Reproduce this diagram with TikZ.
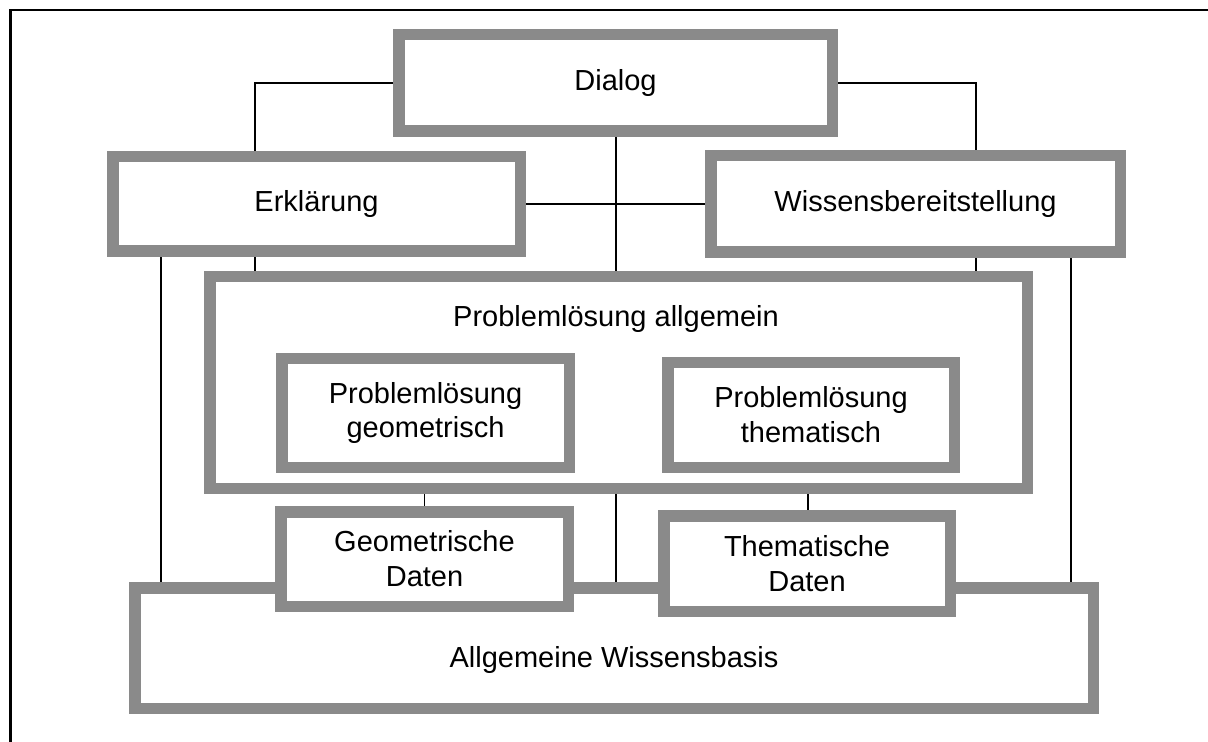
\documentclass[tikz,border=0pt]{standalone}
\usepackage{fontspec}
\setmainfont{Liberation Sans}
\usetikzlibrary{backgrounds}
\definecolor{patgray}{RGB}{138,138,138}
\tikzset{
  pbox/.style 2 args={draw=patgray, line width=5.75pt, fill=white, inner sep=0pt,
    align=center, minimum width={(#1-11.5)*0.5pt}, minimum height={(#2-11.5)*0.5pt}},
  oneline/.style={text height=0.72em, text depth=0pt},
  conn/.style={draw=black, line width=0.7pt},
  frame/.style={draw=black, line width=1.35pt}
}
\begin{document}
\begin{tikzpicture}[x=0.5pt, y=-0.5pt, font=\fontsize{14.5pt}{17.4pt}\selectfont]
\useasboundingbox (0,0) rectangle (1208,742);
% page frame
\coordinate (fA) at (1208,10);
\coordinate (fB) at (10.3,10);
\coordinate (fC) at (10.3,742);
\draw[frame] (fA) -- (fB) -- (fC);
% boxes
\node[pbox={445}{108}, oneline] (dialog) at (615.5,83) {Dialog};
\node[pbox={419}{106}, oneline] (erk) at (316.5,204) {Erklärung};
\node[pbox={421}{108}, oneline] (wis) at (915.5,204) {Wissensbereitstellung};
\node[pbox={970}{132}] (aw) at (614,648) {};
\node[pbox={829}{223}] (pa) at (618.5,382.5) {};
\node[pbox={299}{120}] (pg) at (425.5,413) {Problemlösung\\geometrisch};
\node[pbox={298}{116}] (pt) at (811,415) {Problemlösung\\thematisch};
\node[pbox={299}{106}] (gd) at (424.5,559) {Geometrische\\Daten};
\node[pbox={298}{107}] (td) at (807,563.5) {Thematische\\Daten};
\node[anchor=base, inner sep=0pt] (patext) at (616,327) {Problemlösung allgemein};
\node[anchor=base, inner sep=0pt] (awtext) at (614,667) {Allgemeine Wissensbasis};
% connector x positions
\coordinate (xLL) at (161,0);
\coordinate (xL) at (255,0);
\coordinate (xM) at (616,0);
\coordinate (xR) at (976,0);
\coordinate (xRR) at (1071,0);
\coordinate (xT) at (808,0);
\begin{pgfonlayer}{background}
\draw[conn] (dialog.west) -| (xL |- erk.north);
\draw[conn] (dialog.east) -| (xR |- wis.north);
\draw[conn] (xM |- dialog.south) -- (xM |- pa.north);
\draw[conn] (erk.east) -- (wis.west);
\draw[conn] (xL |- erk.south) -- (xL |- pa.north);
\draw[conn] (xLL |- erk.south) -- (xLL |- aw.north);
\draw[conn] (xR |- wis.south) -- (xR |- pa.north);
\draw[conn] (xRR |- wis.south) -- (xRR |- aw.north);
\draw[conn] (gd.north |- pg.south) -- (gd.north);
\draw[conn] (xT |- pt.south) -- (xT |- td.north);
\draw[conn] (xM |- pa.south) -- (xM |- aw.north);
\end{pgfonlayer}
\end{tikzpicture}
\end{document}
